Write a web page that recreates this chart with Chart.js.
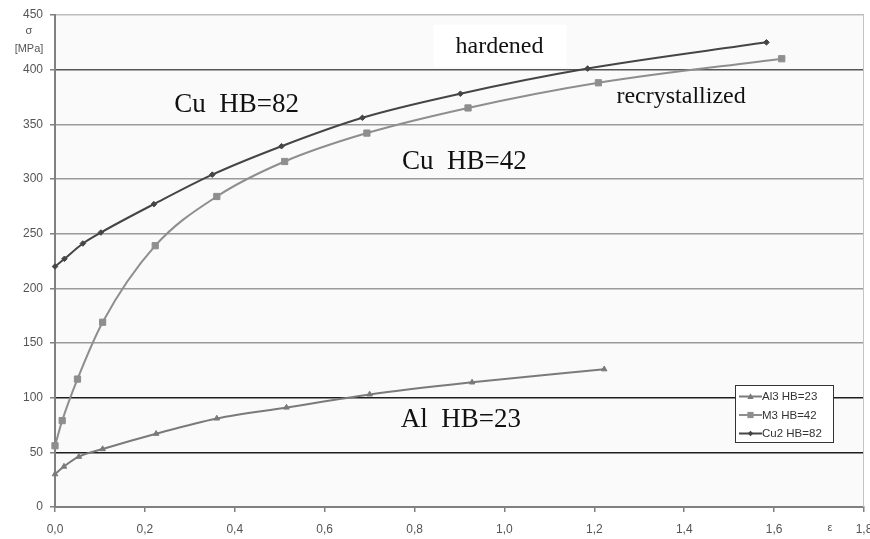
<!DOCTYPE html>
<html>
<head>
<meta charset="utf-8">
<script src="https://cdn.jsdelivr.net/npm/chart.js@4.4.0/dist/chart.umd.min.js"></script>
<style>
body { margin: 0; background: #fff; }
#wrap { width: 870px; height: 539px; }
</style>
</head>
<body>
<div id="wrap"><canvas id="strainChart" width="870" height="539"></canvas></div>
<script>
(function() {
    "use strict";

// strain (epsilon) and flow stress sigma [MPa]
var alStrain = [0, 0.02, 0.053, 0.106, 0.225, 0.36, 0.515, 0.70, 0.928, 1.222];
var alStress = [30, 37, 46, 53, 67, 81, 91, 103, 114, 126];

var m3Strain = [0, 0.016, 0.05, 0.106, 0.223, 0.36, 0.511, 0.694, 0.919, 1.209, 1.617];
var m3Stress = [56, 79, 117, 169, 239, 284, 316, 342, 365, 388, 410];

var cuStrain = [0, 0.021, 0.062, 0.102, 0.22, 0.35, 0.504, 0.684, 0.902, 1.185, 1.583];
var cuStress = [220, 227, 241, 251, 277, 304, 330, 356, 378, 401, 425];

var seriesNames = ['Al3 HB=23', 'M3 HB=42', 'Cu2 HB=82'];
var yTicks = [0, 50, 100, 150, 200, 250, 300, 350, 400, 450];
var xTicks = [0, 0.2, 0.4, 0.6, 0.8, 1.0, 1.2, 1.4, 1.6, 1.8];

// text notes on the plot, placed in data units
var notes = [
    { text: 'hardened',       x: 0.989, y: 421, size: 24, box: true },
    { text: 'recrystallized', x: 1.393, y: 375, size: 24 },
    { text: 'Cu  HB=82',      x: 0.404, y: 368, size: 27 },
    { text: 'Cu  HB=42',      x: 0.911, y: 316, size: 27 },
    { text: 'Al  HB=23',      x: 0.903, y: 80,  size: 27 }
];

function pairs(xs, ys) {
    return xs.map(function(x, i) { return { x: x, y: ys[i] }; });
}

var styles = [
    { color: '#7a7a7a', point: 'triangle', radius: 3.2 },
    { color: '#8e8e8e', point: 'rect',     radius: 4.4 },
    { color: '#454545', point: 'rectRot',  radius: 2.8 }
];
var sets = [pairs(alStrain, alStress), pairs(m3Strain, m3Stress), pairs(cuStrain, cuStress)];

var datasets = sets.map(function(d, i) {
    return {
        label: seriesNames[i],
        data: d,
        showLine: true,
        borderColor: styles[i].color,
        backgroundColor: styles[i].color,
        borderWidth: 2,
        pointStyle: styles[i].point,
        pointRadius: styles[i].radius,
        pointBorderWidth: 1,
        cubicInterpolationMode: 'monotone',
        clip: false
    };
});

function gridColor(ctx) {
    var v = ctx.tick ? ctx.tick.value : 0;
    if (v === 0) return 'rgba(0,0,0,0)';
    if (v === 50 || v === 100) return '#1e1e1e';
    if (v === 400) return '#555';
    if (v === 450) return '#bdbdbd';
    return '#9a9a9a';
}

var decorate = {
    id: 'decorate',
    beforeDatasetsDraw: function(chart) {
        var c = chart.ctx, a = chart.chartArea;
        var xs = chart.scales.x, ys = chart.scales.y;
        c.save();
        // white patch behind "hardened"
        notes.forEach(function(n) {
            if (!n.box) return;
            var px = xs.getPixelForValue(n.x), py = ys.getPixelForValue(n.y);
            c.fillStyle = '#ffffff';
            c.fillRect(px - 66, py - 22, 133, 42);
        });
        // right border of plot area
        c.strokeStyle = '#c4c4c4';
        c.lineWidth = 1;
        c.beginPath();
        c.moveTo(a.right - 0.5, a.top);
        c.lineTo(a.right - 0.5, a.bottom);
        c.stroke();
        c.restore();
    },
    beforeDraw: function(chart) {
        var c = chart.ctx, a = chart.chartArea;
        c.save();
        c.fillStyle = '#fafafa';
        c.fillRect(a.left, a.top, a.right - a.left, a.bottom - a.top);
        c.restore();
    },
    afterDraw: function(chart) {
        var c = chart.ctx;
        var xs = chart.scales.x, ys = chart.scales.y;
        c.save();
        // notes
        c.fillStyle = '#111';
        c.textAlign = 'center';
        c.textBaseline = 'middle';
        notes.forEach(function(n) {
            c.font = n.size + 'px "Liberation Serif", "Times New Roman", serif';
            c.fillText(n.text, xs.getPixelForValue(n.x), ys.getPixelForValue(n.y));
        });
        // axis titles
        c.fillStyle = '#555';
        c.font = '11px "Liberation Sans", Arial, sans-serif';
        c.fillText('\u03c3', 29, 31);
        c.fillText('[MPa]', 29, 49);
        c.fillText('\u03b5', 830, 528);

        // legend
        var lx = 735, ly = 385, lw = 98, lh = 57;
        c.fillStyle = '#ffffff';
        c.fillRect(lx, ly, lw, lh);
        c.strokeStyle = '#333';
        c.lineWidth = 1;
        c.strokeRect(lx + 0.5, ly + 0.5, lw, lh);
        c.textAlign = 'left';
        c.font = '11.5px "Liberation Sans", Arial, sans-serif';
        datasets.forEach(function(ds, i) {
            var y = ly + 11.5 + i * 18.5;
            c.strokeStyle = ds.borderColor;
            c.lineWidth = 2;
            c.beginPath();
            c.moveTo(lx + 4, y);
            c.lineTo(lx + 27, y);
            c.stroke();
            drawMark(c, ds.pointStyle, lx + 15.5, y, ds.pointRadius, ds.borderColor);
            c.fillStyle = '#333';
            c.fillText(ds.label, lx + 27, y + 0.5);
        });
        c.restore();
    }
};

function drawMark(c, style, x, y, r, color) {
    c.fillStyle = color;
    c.beginPath();
    if (style === 'rect') {
        var s = r * Math.SQRT1_2;
        c.rect(x - s, y - s, 2 * s, 2 * s);
    } else if (style === 'rectRot') {
        c.moveTo(x, y - r); c.lineTo(x + r, y); c.lineTo(x, y + r); c.lineTo(x - r, y);
        c.closePath();
    } else {
        c.moveTo(x, y - r); c.lineTo(x + r, y + r * 0.75); c.lineTo(x - r, y + r * 0.75);
        c.closePath();
    }
    c.fill();
}

new Chart(document.getElementById('strainChart'), {
    type: 'scatter',
    data: { datasets: datasets.slice() },
    options: {
        responsive: false,
        animation: false,
        layout: { padding: { top: 15, right: 6, left: 0, bottom: 0 } },
        plugins: {
            legend: { display: false },
            tooltip: { enabled: false }
        },
        scales: {
            x: {
                type: 'linear',
                min: 0,
                max: 1.8,
                afterBuildTicks: function(s) { s.ticks = xTicks.map(function(v) { return { value: v }; }); },
                afterFit: function(s) { s.height = 32; s.paddingRight = 0; s.paddingLeft = 0; },
                ticks: {
                    color: '#555',
                    font: { family: '"Liberation Sans", Arial, sans-serif', size: 12 },
                    padding: 10,
                    maxRotation: 0,
                    autoSkip: false,
                    callback: function(v) { return Number(v).toFixed(1).replace('.', ','); }
                },
                grid: {
                    drawOnChartArea: false,
                    drawTicks: true,
                    tickLength: 5,
                    tickColor: '#808080',
                    lineWidth: 1.5
                },
                border: { color: '#808080', width: 2 }
            },
            y: {
                min: 0,
                max: 450,
                afterBuildTicks: function(s) { s.ticks = yTicks.map(function(v) { return { value: v }; }); },
                afterFit: function(s) { s.width = 55; },
                ticks: {
                    color: '#555',
                    font: { family: '"Liberation Sans", Arial, sans-serif', size: 12 },
                    padding: 7,
                    autoSkip: false
                },
                grid: {
                    color: gridColor,
                    lineWidth: 1.5,
                    tickLength: 5,
                    tickColor: '#808080'
                },
                border: { color: '#808080', width: 2 }
            }
        }
    },
    plugins: [decorate]
});

})();
</script>
</body>
</html>
